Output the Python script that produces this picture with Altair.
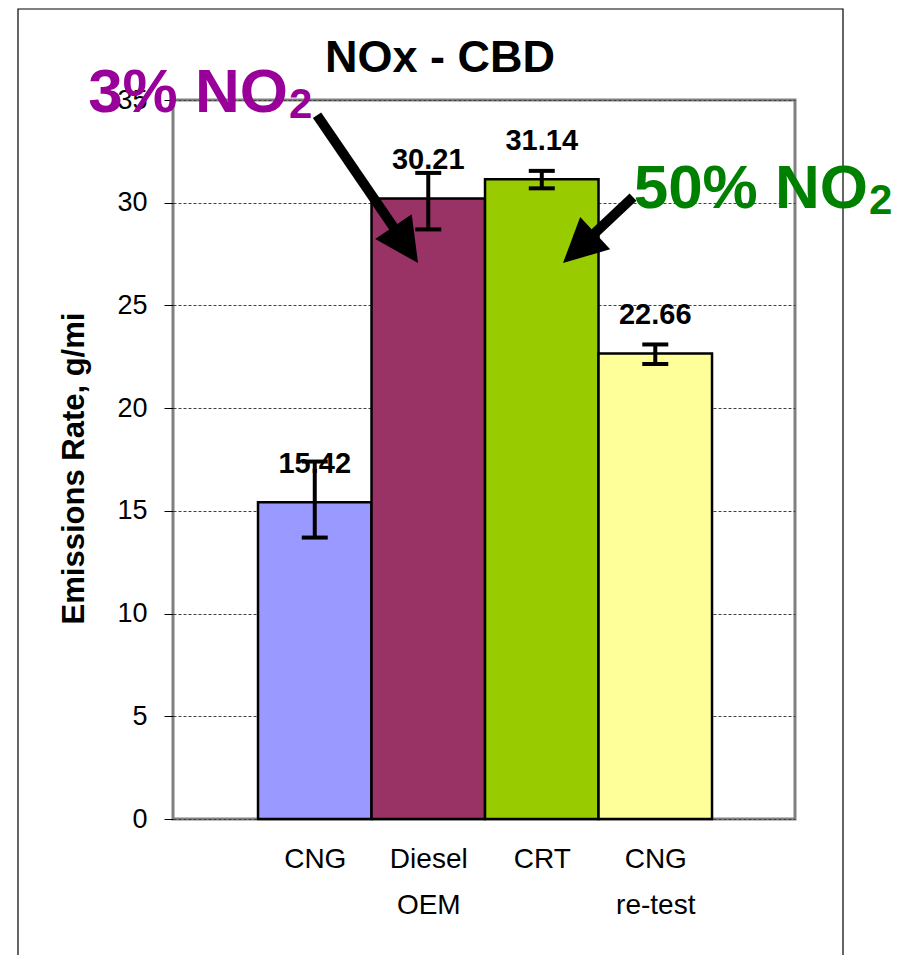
import altair as alt
import pandas as pd

# bar data
categories = ["CNG", "Diesel OEM", "CRT", "CNG re-test"]
label_lines = [["CNG"], ["Diesel", "OEM"], ["CRT"], ["CNG", "re-test"]]
values = [15.42, 30.21, 31.14, 22.66]
err_low = [13.7, 28.7, 30.7, 22.15]
err_high = [17.4, 31.45, 31.55, 23.1]
bar_colors = ["#9999FF", "#993366", "#99CC00", "#FFFF99"]
y_ticks = [0, 5, 10, 15, 20, 25, 30, 35]

# callouts (in chart units: x = bar slot, y = g/mi)
note_main = ["3% NO", "50% NO"]
note_sub = ["2", "2"]
note_x = [0.764, 5.874]
note_y = [34.40, 29.73]
note_colors = ["#990099", "#008000"]

arrow_tail_x = [1.02, 3.804]
arrow_tail_y = [34.26, 30.27]
arrow_tip_x = [1.91, 3.187]
arrow_tip_y = [27.06, 27.06]
arrow_angle = [146, 227]

FONT = "Liberation Sans"
Y_TITLE = "Emissions Rate, g/mi"

df = pd.DataFrame({
    "cat": categories,
    "pos": range(1, len(categories) + 1),
    "value": values,
    "lo": err_low,
    "hi": err_high,
    "color": bar_colors,
})
df["x0"] = df["pos"] - 0.5
df["x1"] = df["pos"] + 0.5
df["zero"] = 0
df["label"] = df["value"].map(lambda v: f"{v:.2f}")

notes = pd.DataFrame({"main": note_main, "sub": note_sub, "x": note_x, "y": note_y,
                      "color": note_colors})

arrows = pd.DataFrame({
    "tx": arrow_tail_x, "ty": arrow_tail_y,
    "hx": arrow_tip_x, "hy": arrow_tip_y,
    "angle": arrow_angle,
})
# shaft stops inside the arrow head
arrows["ex"] = arrows["tx"] + 0.8 * (arrows["hx"] - arrows["tx"])
arrows["ey"] = arrows["ty"] + 0.8 * (arrows["hy"] - arrows["ty"])

x_scale = alt.Scale(domain=[-0.249, 5.231], nice=False, zero=False)
y_scale = alt.Scale(domain=[0, 35], nice=False)

label_expr = "[" + ",".join(
    "[" + ",".join(f"'{s}'" for s in lines) + "]" for lines in label_lines
) + "][datum.value - 1]"


def X(field, **kw):
    return alt.X(field, scale=x_scale, title=None, **kw)


def Y(field, **kw):
    return alt.Y(field, scale=y_scale, title=Y_TITLE, **kw)


base = alt.Chart(df)

bars = base.mark_rect(stroke="black", strokeWidth=2.5).encode(
    x=X("x0:Q", axis=alt.Axis(values=list(range(1, len(categories) + 1)),
                              labelExpr=label_expr)),
    x2="x1:Q",
    y=Y("value:Q", axis=alt.Axis(values=y_ticks)),
    y2="zero:Q",
    color=alt.Color("color:N", scale=None),
)

err = base.mark_rule(color="black", strokeWidth=4).encode(
    x=X("pos:Q"), y=Y("lo:Q"), y2="hi:Q",
)
cap_lo = base.mark_tick(color="black", orient="horizontal", size=26, thickness=4,
                        opacity=1).encode(x=X("pos:Q"), y=Y("lo:Q"))
cap_hi = base.mark_tick(color="black", orient="horizontal", size=26, thickness=4,
                        opacity=1).encode(x=X("pos:Q"), y=Y("hi:Q"))

value_text = base.mark_text(font=FONT, fontSize=29, fontWeight="bold", color="black",
                            baseline="alphabetic", dy=-29).encode(
    x=X("pos:Q"), y=Y("value:Q"), text="label:N",
)

shafts = alt.Chart(arrows).mark_rule(color="black", strokeWidth=10, strokeCap="butt").encode(
    x=X("tx:Q"), y=Y("ty:Q"), x2="ex:Q", y2="ey:Q",
)
heads = alt.Chart(arrows).mark_point(shape="M0,0L0.5,1L-0.5,1Z", filled=True, size=7744,
                                     color="black", opacity=1, strokeWidth=0).encode(
    x=X("hx:Q"), y=Y("hy:Q"), angle=alt.Angle("angle:Q", scale=None),
)

note_text = alt.Chart(notes).mark_text(font=FONT, fontSize=62, fontWeight="bold",
                                       align="right", baseline="alphabetic").encode(
    x=X("x:Q"), y=Y("y:Q"), text="main:N", color=alt.Color("color:N", scale=None),
)
note_subs = alt.Chart(notes).mark_text(font=FONT, fontSize=42, fontWeight="bold",
                                       align="left", baseline="alphabetic", dx=1, dy=6).encode(
    x=X("x:Q"), y=Y("y:Q"), text="sub:N", color=alt.Color("color:N", scale=None),
)

frame = alt.Chart(alt.Data(values=[{"f": 1}])).mark_rect(
    fill=None, stroke="black", strokeWidth=1.2
).encode(
    x=alt.value(-155), x2=alt.value(670), y=alt.value(-91), y2=alt.value(900),
)

chart = alt.layer(
    frame, bars, err, cap_lo, cap_hi, value_text, shafts, heads, note_text, note_subs
).properties(
    width=622,
    height=719,
    title=alt.TitleParams("NOx - CBD", anchor="start", frame="group", dx=152, offset=0,
                          dy=109, baseline="alphabetic",
                          font=FONT, fontSize=45, fontWeight="bold", color="black"),
    autosize=alt.AutoSizeParams(type="none"),
    padding={"left": 165, "top": 92, "right": 104, "bottom": 136},
).configure_view(
    stroke="#808080", strokeWidth=3
).configure_axisX(
    grid=False, ticks=False, domain=False, labelFont=FONT, labelFontSize=28,
    labelColor="black", labelPadding=26, labelLineHeight=46, labelOverlap=False,
    labelFlush=False, labelBound=False,
).configure_axisY(
    grid=True, gridColor="#404040", gridDash=[3, 2], gridWidth=1, domain=False,
    ticks=True, tickSize=9, tickColor="black", tickWidth=1,
    labelFont=FONT, labelFontSize=27, labelColor="black", labelPadding=17,
    titleFont=FONT, titleFontSize=31, titleFontWeight="bold", titleColor="black",
    titlePadding=26, titleY=368,
)

chart.save("out.html", embed_options={"renderer": "svg", "actions": False})
